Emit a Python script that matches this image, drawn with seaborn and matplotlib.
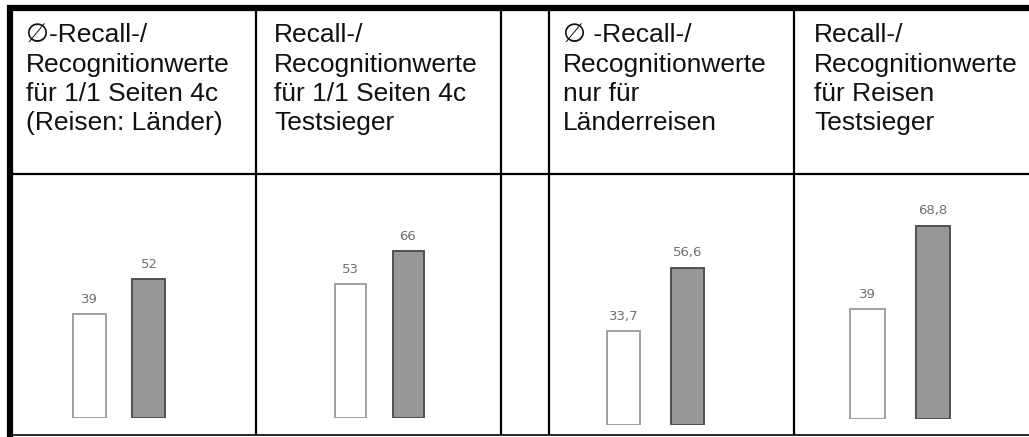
import matplotlib
matplotlib.use("Agg")
import matplotlib.pyplot as plt
from matplotlib.lines import Line2D
import seaborn as sns
import pandas as pd

# header texts of the four filled columns
titles = [
    ["\u2205-Recall-/", "Recognitionwerte", "für 1/1 Seiten 4c", "(Reisen: Länder)"],
    ["Recall-/", "Recognitionwerte", "für 1/1 Seiten 4c", "Testsieger"],
    ["\u2205 -Recall-/", "Recognitionwerte", "nur für", "Länderreisen"],
    ["Recall-/", "Recognitionwerte", "für Reisen", "Testsieger"],
]
bar_names = ["a", "b"]
white_vals = [39, 53, 33.7, 39]
grey_vals = [52, 66, 56.6, 68.8]

W, H = 1029, 437
sns.set_style("white")
plt.rcParams["font.family"] = ["Liberation Sans", "DejaVu Sans"]

fig = plt.figure(figsize=(W / 100, H / 100), dpi=100)

def fx(px):
    return px / W

def fy(py):
    return 1 - py / H

def hline(y, x0, x1, lw):
    fig.add_artist(Line2D([fx(x0), fx(x1)], [fy(y), fy(y)], color="black", lw=lw, solid_capstyle="butt"))

def vline(x, y0, y1, lw):
    fig.add_artist(Line2D([fx(x), fx(x)], [fy(y0), fy(y1)], color="black", lw=lw, solid_capstyle="butt"))

# table frame
hline(8, 7, W, 4.5)
vline(10, 5, H, 4.5)
hline(174, 13, W, 1.6)
hline(435, 13, W, 1.2)
for x in [255.5, 501, 549, 794]:
    vline(x, 11, 435, 1.6)

# header text
text_x = [26, 274, 563, 814]
baselines = [42, 72, 101, 130]
for tx, lines in zip(text_x, titles):
    for by, line in zip(baselines, lines):
        fig.text(fx(tx), fy(by), line, fontsize=19, va="baseline", ha="left", color="#111111")

# bar panels: cell x-range, bar centres, bar width, baseline, px per unit
panels = [
    ((14, 254), (89.5, 149), 33, 418, 2.67),
    ((257, 500), (350.5, 408), 31, 418, 2.53),
    ((550, 793), (623.5, 687.5), 33, 425, 2.78),
    ((795, 1028), (867.5, 933), 34.5, 419, 2.81),
]

for i, ((x0, x1), (c0, c1), bw, base, scale) in enumerate(panels):
    top = 177
    ax = fig.add_axes([fx(x0), fy(base), (x1 - x0) / W, (base - top) / H])
    df = pd.DataFrame({"bar": bar_names, "val": [white_vals[i], grey_vals[i]]})
    sp = c1 - c0
    sns.barplot(data=df, x="bar", y="val", hue="bar", palette=["white", "#969896"],
                width=bw / sp, legend=False, ax=ax)
    edges = ["#a0a0a0", "#505050"]
    for p, ec in zip(ax.patches, edges):
        p.set_edgecolor(ec)
        p.set_linewidth(1.4)
    for cont in ax.containers:
        ax.bar_label(cont, labels=[f"{v:g}".replace(".", ",") for v in cont.datavalues],
                     padding=6, fontsize=9.5, color="#707070", family="DejaVu Sans")
    ax.set_xlim((x0 - c0) / sp, (x1 - c0) / sp)
    ax.set_ylim(0, (base - top) / scale)
    ax.axis("off")

fig.savefig("out.png", dpi=100)
